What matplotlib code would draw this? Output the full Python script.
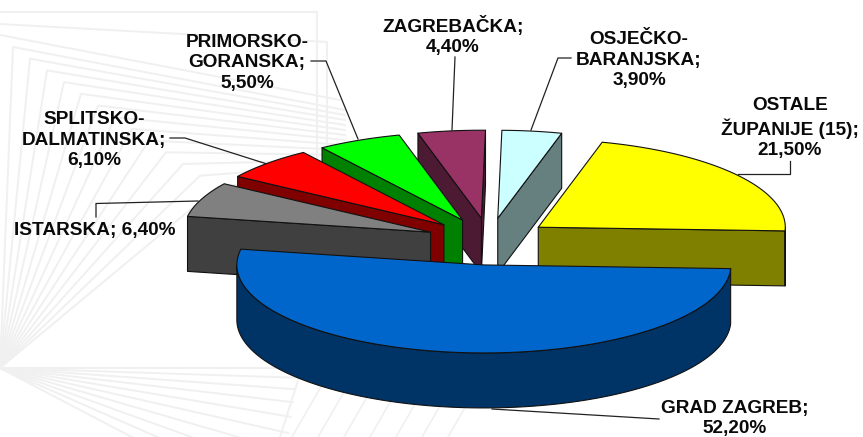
import numpy as np
import matplotlib
matplotlib.use('Agg')
import matplotlib.pyplot as plt
from matplotlib.patches import Polygon

# --- Data (counter-clockwise from the right-hand cut) ---
names = ['OSTALE\nŽUPANIJE (15)', 'OSJEČKO-\nBARANJSKA', 'ZAGREBAČKA', 'PRIMORSKO-\nGORANSKA',
         'SPLITSKO-\nDALMATINSKA', 'ISTARSKA', 'GRAD ZAGREB']
values = [21.5, 3.9, 4.4, 5.5, 6.1, 6.4, 52.2]
top_colors = ['#FFFF00', '#CCFFFF', '#993366', '#00FF00', '#FF0000', '#808080', '#0066CC']
side_colors = ['#808000', '#668080', '#4D1A33', '#008000', '#800000', '#404040', '#003366']

# --- Layout, in pixels ---
WIDTH, HEIGHT = 863, 437
CX, CY = 489, 240.5
RX, RY = 247, 88
DEPTH = 55
START_ANGLE = -2.4
explode = [63, 63, 63, 63, 63, 63, 69]
nudge_x = [-1.5, 0, 0, 0, 0, 0, 2.5]
separators = ['\n', '\n', '\n', '\n', '\n', ' ', '\n']
label_pos = [(790, 128), (639, 60), (453, 36), (247, 63), (94, 140), (95, 231), (735, 418.5)]
leaders = [
    [(790, 161), (790, 174), (738, 174)],
    [(571, 58), (558, 58), (531, 130)],
    [(455, 57), (452, 130)],
    [(311, 61), (326, 61), (358, 139)],
    [(170, 138), (185, 138), (267, 164)],
    [(96, 217), (96, 203.5), (198, 201)],
    [(659, 419), (492, 409)],
]

fig, ax = plt.subplots(figsize=(WIDTH / 100, HEIGHT / 100), dpi=100)
fig.subplots_adjust(0, 0, 1, 1)
ax.set_xlim(0, WIDTH)
ax.set_ylim(HEIGHT, 0)
ax.axis('off')

# --- Faint line pattern behind the chart ---
BG = '#f0f0f0'
fan_x, fan_y = 0, 368
ax.plot([0, 317, 317], [12, 12, 195], color=BG, lw=1.5, zorder=1)
ax.plot([0, 327, 327], [24, 42, 190], color=BG, lw=1.4, zorder=1)
ax.plot([0, 340], [35, 100], color=BG, lw=1.4, zorder=1)
for i in range(13):
    corner_x = 13 + 17 * i
    corner_y = 47 + 11.7 * i
    ax.plot([fan_x, corner_x, 345], [fan_y, corner_y, 110 + 5 * i], color=BG, lw=1.4, zorder=1)
for i in range(10):
    ax.plot([fan_x, 300 - 2.4 * i], [fan_y, 368 + 9 * i + 0.8 * i ** 2], color=BG, lw=1.4, zorder=1)
ax.plot([302, 280], [368, 437], color=BG, lw=1.4, zorder=1)
for i in range(7):
    ax.plot([292 + 26 * i, 322 + 26 * i], [437, 385], color=BG, lw=1.2, zorder=1)

# --- Exploded 3D pie ---
def rim(x0, y0, a0, a1, drop=0):
    t = np.radians(np.linspace(a0, a1, max(int(abs(a1 - a0)) + 2, 2)))
    return np.column_stack([x0 + RX * np.cos(t), y0 - RY * np.sin(t) + drop])

angle = START_ANGLE
for value, top, side, e, dx in zip(values, top_colors, side_colors, explode, nudge_x):
    a0, a1 = angle, angle + value * 3.6
    angle = a1
    mid = np.radians((a0 + a1) / 2)
    x0 = CX + e * np.cos(mid) + dx
    y0 = CY - e * RY / RX * np.sin(mid)
    style = dict(facecolor=side, edgecolor='#111111', lw=0.8, joinstyle='round', zorder=3)

    # radial wall facing the viewer
    for a, visible in ((a0, np.cos(np.radians(a0)) > 0), (a1, np.cos(np.radians(a1)) < 0)):
        if visible:
            p = rim(x0, y0, a, a)[0]
            ax.add_patch(Polygon([(x0, y0), p, (p[0], p[1] + DEPTH), (x0, y0 + DEPTH)], **style))

    # outer wall, only the near half of the ellipse
    lo, hi = max(a0, 180), min(a1, 360)
    walls = [(lo, hi)] if lo < hi else []
    if a0 < 0:
        walls.append((a0, min(a1, 0)))
    for w0, w1 in walls:
        upper = rim(x0, y0, w0, w1)
        lower = rim(x0, y0, w1, w0, DEPTH)
        ax.add_patch(Polygon(np.vstack([upper, lower]), **style))

    face = np.vstack([[(x0, y0)], rim(x0, y0, a0, a1)])
    ax.add_patch(Polygon(face, facecolor=top, edgecolor='#111111', lw=0.8, joinstyle='round', zorder=3))

# --- Labels ---
for name, value, sep, (lx, ly), leader in zip(names, values, separators, label_pos, leaders):
    text = f"{name};{sep}{value:.2f}%".replace('.', ',')
    ax.text(lx, ly, text, ha='center', va='center', ma='center', family='Liberation Sans',
            fontweight='bold', fontsize=13.7, linespacing=1.24, color='#0a0a0a', zorder=5)
    xs, ys = zip(*leader)
    ax.plot(xs, ys, color='#222222', lw=0.9, zorder=2.5)

fig.savefig('out.png', dpi=100)
